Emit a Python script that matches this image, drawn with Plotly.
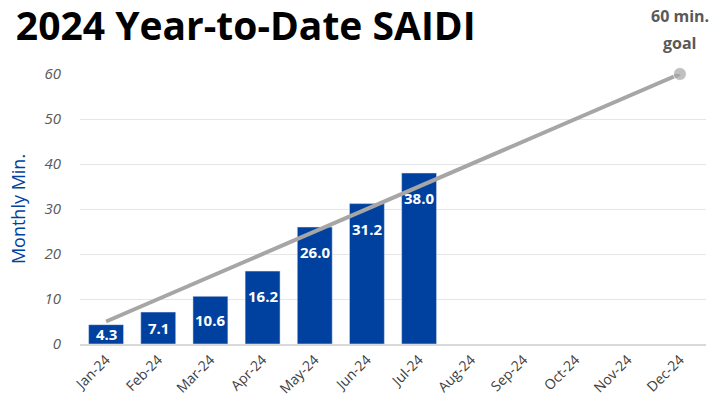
import plotly.graph_objects as go

months = ["Jan-24", "Feb-24", "Mar-24", "Apr-24", "May-24", "Jun-24",
          "Jul-24", "Aug-24", "Sep-24", "Oct-24", "Nov-24", "Dec-24"]
ytd_saidi = [4.3, 7.1, 10.6, 16.2, 26.0, 31.2, 38.0]
goal = [5, 10, 15, 20, 25, 30, 35, 40, 45, 50, 55, 60]

fig = go.Figure()
fig.add_trace(go.Bar(
    x=months[:len(ytd_saidi)], y=ytd_saidi,
    marker=dict(color="#0041A0"),
    width=0.67,
))
fig.add_trace(go.Scatter(
    x=months, y=goal, mode="lines+markers",
    line=dict(color="#A6A6A6", width=4),
    marker=dict(size=[0] * 11 + [13], color="#A6A6A6"),
    cliponaxis=False,
))

# data labels: "inside end" with padding like the original
px_per_unit = 270 / 60
for m, v in zip(months, ytd_saidi):
    fig.add_annotation(x=m, y=v, text=f"<b>{v:.1f}</b>", showarrow=False,
                       yanchor="middle", yshift=-min(25, v * px_per_unit / 2),
                       font=dict(family="Open Sans", size=15, color="white"))

# goal label above the end marker
for line_txt, shift in [("60 min.", 58), ("goal", 31)]:
    fig.add_annotation(text=f"<b>{line_txt}</b>", x=months[-1], y=goal[-1], xref="x", yref="y",
                       yanchor="middle", yshift=shift, showarrow=False,
                       font=dict(family="Open Sans", size=16, color="#595959"))

fig.update_layout(
    width=720, height=408,
    margin=dict(l=80, r=14, t=74, b=64, autoexpand=False),
    plot_bgcolor="white", paper_bgcolor="white",
    showlegend=False,
    title=dict(text="<b>2024 Year-to-Date SAIDI</b>", x=0.022, xanchor="left",
               y=0.935, yanchor="middle",
               font=dict(family="Open Sans", size=39, color="black")),
)
fig.update_xaxes(
    categoryorder="array", categoryarray=months, range=[-0.5, 11.5], automargin=False,
    tickangle=-45, tickfont=dict(family="Open Sans", size=14, color="#404040"),
    showline=True, linecolor="#D9D9D9", linewidth=2, ticks="",
)
fig.update_yaxes(
    range=[0, 60], dtick=10, automargin=False,
    showgrid=True, gridcolor="#E6E6E6", gridwidth=1, zeroline=False,
    tickfont=dict(family="Open Sans", size=15, color="#595959", style="italic"),
    ticklabelstandoff=18,
    title=dict(text="Monthly Min.", font=dict(family="Open Sans", size=18, color="#0041A0"), standoff=14),
)

fig.write_html("out.html", config={"displayModeBar": False},
               post_script="document.body.style.margin='0';document.body.style.overflow='hidden';")
